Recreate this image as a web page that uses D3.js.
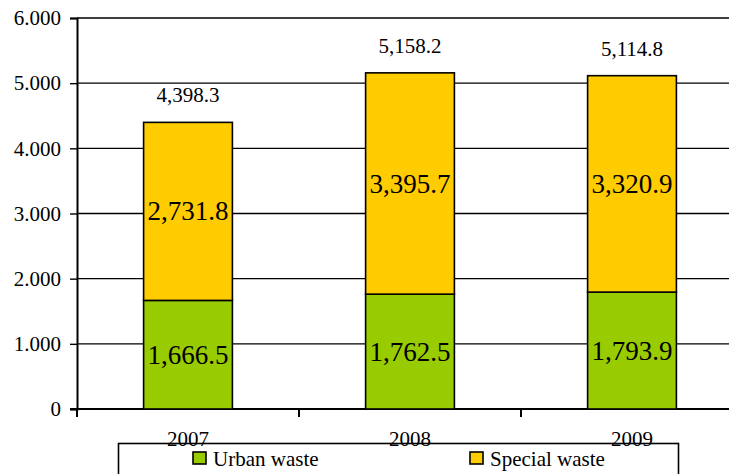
<!DOCTYPE html>
<html lang="en">
<head>
  <meta charset="UTF-8">
  <title>Urban and special waste</title>
  <script src="https://d3js.org/d3.v7.min.js"></script>
  <style>
    body {
      margin: 0;
      padding: 0;
      background: #fff;
    }
    svg { display: block; }
    svg text {
      font-family: "Liberation Serif", "Times New Roman", serif;
      fill: #000;
    }
  </style>
</head>
<body>
  <div id="chart"></div>

  <script>
    // chart data
    const years = ["2007", "2008", "2009"];
    const urbanWaste = [1666.5, 1762.5, 1793.9];
    const specialWaste = [2731.8, 3395.7, 3320.9];
    const totals = [4398.3, 5158.2, 5114.8];
    const yTicks = [0, 1000, 2000, 3000, 4000, 5000, 6000];
    const seriesNames = ["Urban waste", "Special waste"];
    const seriesColors = ["#99cc00", "#ffcc00"];

    const width = 729;
    const height = 474;
    const margin = { top: 18, left: 77, bottom: 65 };
    const plotRight = 743; // plot runs past the window edge
    const serif = "'Liberation Serif', 'Times New Roman', serif";

    const svg = d3.select("#chart")
      .append("svg")
      .attr("width", width)
      .attr("height", height)
      .attr("font-family", serif);

    const x = d3.scaleBand()
      .domain(years)
      .range([margin.left, plotRight])
      .paddingInner(0.6)
      .paddingOuter(0.3);

    const y = d3.scaleLinear()
      .domain([0, 6000])
      .range([height - margin.bottom, margin.top]);

    // European style tick labels: 6.000
    const tickFmt = d3.formatLocale({ decimal: ",", thousands: ".", grouping: [3], currency: ["", ""] }).format(",");
    const labelFmt = d3.format(",.1f");

    // grid lines
    svg.append("g")
      .selectAll("line")
      .data(yTicks.filter(d => d > 0))
      .join("line")
      .attr("x1", margin.left)
      .attr("x2", plotRight)
      .attr("y1", d => y(d))
      .attr("y2", d => y(d))
      .attr("stroke", "#000")
      .attr("stroke-width", 1.4);

    // y axis
    const yAxis = svg.append("g")
      .attr("transform", `translate(${margin.left},0)`)
      .call(d3.axisLeft(y).tickValues(yTicks).tickFormat(tickFmt).tickSize(7).tickPadding(9));
    yAxis.attr("font-family", serif).attr("font-size", 21);
    yAxis.select(".domain").attr("stroke-width", 2);
    yAxis.selectAll(".tick line").attr("stroke-width", 1.4);
    yAxis.selectAll("text").attr("fill", "#000");

    // x axis with ticks between categories
    const xAxisY = y(0);
    svg.append("line")
      .attr("x1", margin.left - 7)
      .attr("x2", plotRight)
      .attr("y1", xAxisY)
      .attr("y2", xAxisY)
      .attr("stroke", "#000")
      .attr("stroke-width", 2);

    svg.append("g")
      .selectAll("line")
      .data(years)
      .join("line")
      .attr("x1", d => x(d) - x.step() * x.paddingOuter())
      .attr("x2", d => x(d) - x.step() * x.paddingOuter())
      .attr("y1", xAxisY)
      .attr("y2", xAxisY + 8)
      .attr("stroke", "#000")
      .attr("stroke-width", 2);

    // stacked bars
    const stackData = years.map((yr, i) => ({ year: yr, urban: urbanWaste[i], special: specialWaste[i] }));
    const stack = d3.stack().keys(["urban", "special"])(stackData);

    svg.append("g")
      .selectAll("g")
      .data(stack)
      .join("g")
      .attr("fill", (d, i) => seriesColors[i])
      .selectAll("rect")
      .data(d => d)
      .join("rect")
      .attr("x", d => x(d.data.year))
      .attr("y", d => y(d[1]))
      .attr("width", x.bandwidth())
      .attr("height", d => y(d[0]) - y(d[1]))
      .attr("stroke", "#000")
      .attr("stroke-width", 1.6);

    // segment labels
    svg.append("g")
      .selectAll("g")
      .data(stack)
      .join("g")
      .selectAll("text")
      .data(d => d)
      .join("text")
      .attr("x", d => x(d.data.year) + x.bandwidth() / 2)
      .attr("y", d => (y(d[0]) + y(d[1])) / 2 + 9)
      .attr("text-anchor", "middle")
      .attr("font-size", 27)
      .text(d => labelFmt(d[1] - d[0]));

    // totals above bars
    svg.append("g")
      .selectAll("text")
      .data(years)
      .join("text")
      .attr("x", d => x(d) + x.bandwidth() / 2)
      .attr("y", (d, i) => y(totals[i]) - 20)
      .attr("text-anchor", "middle")
      .attr("font-size", 21)
      .text((d, i) => labelFmt(totals[i]));

    // legend
    const legend = svg.append("g");
    legend.append("rect")
      .attr("x", 118.5)
      .attr("y", 443.5)
      .attr("width", 560)
      .attr("height", 40)
      .attr("fill", "#fff")
      .attr("stroke", "#000")
      .attr("stroke-width", 1.6);

    const legendX = [193, 470];
    const items = legend.selectAll("g")
      .data(seriesNames)
      .join("g")
      .attr("transform", (d, i) => `translate(${legendX[i]},452)`);
    items.append("rect")
      .attr("width", 13)
      .attr("height", 12)
      .attr("fill", (d, i) => seriesColors[i])
      .attr("stroke", "#000")
      .attr("stroke-width", 1.6);
    items.append("text")
      .attr("x", 20)
      .attr("y", 14)
      .attr("font-size", 21)
      .text(d => d);

    // year labels, drawn over the legend frame
    svg.append("g")
      .selectAll("text")
      .data(years)
      .join("text")
      .attr("x", d => x(d) + x.bandwidth() / 2)
      .attr("y", 446)
      .attr("text-anchor", "middle")
      .attr("font-size", 21)
      .text(d => d);
  </script>
</body>
</html>
